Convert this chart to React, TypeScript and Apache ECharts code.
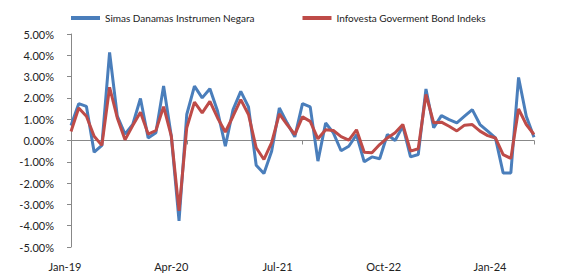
import React, { useEffect, useRef } from "react";
import * as echarts from "echarts";

const MONTHS = ["Jan", "Feb", "Mar", "Apr", "May", "Jun", "Jul", "Aug", "Sep", "Oct", "Nov", "Dec"];
const YEARS = [19, 20, 21, 22, 23, 24];
const categories: string[] = [];
YEARS.forEach((y) => MONTHS.forEach((m) => categories.push(`${m}-${y}`)));
categories.length = 61; // Jan-19 .. Jan-24

const seriesNames = ["Simas Danamas Instrumen Negara", "Infovesta Goverment Bond Indeks"];

const simas = [
  0.7, 1.73, 1.6, -0.55, -0.23, 4.14, 1.14, 0.3, 0.75, 1.97, 0.12,
  0.36, 2.56, 0.2, -3.77, 1.22, 2.55, 2.0, 2.43, 1.37, -0.27,
  1.45, 2.31, 1.58, -1.16, -1.55, -0.5, 1.53, 0.83, 0.17, 1.73,
  1.58, -0.97, 0.82, 0.36, -0.48, -0.27, 0.27, -1.0, -0.77, -0.86,
  0.28, 0.0, 0.67, -0.77, -0.66, 2.42, 0.6, 1.17, 0.98, 0.83,
  1.14, 1.45, 0.75, 0.44, 0.12, -1.52, -1.52, 2.96, 1.14, 0.15,
];

const infovesta = [
  0.42, 1.53, 1.14, 0.2, -0.23, 2.5, 1.06, 0.03, 0.7, 1.33, 0.3,
  0.47, 1.59, 0.2, -3.3, 0.6, 1.8, 1.3, 1.84, 1.06, 0.4,
  1.14, 1.92, 1.22, -0.34, -0.89, -0.1, 1.25, 0.75, 0.28, 1.11,
  0.9, 0.08, 0.5, 0.47, 0.18, 0.02, 0.5, -0.55, -0.58, -0.19,
  0.12, 0.36, 0.75, -0.5, -0.39, 2.16, 0.83, 0.86, 0.67, 0.45,
  0.72, 0.75, 0.44, 0.23, 0.12, -0.66, -0.84, 1.48, 0.75, 0.28,
];

const Y_MIN = -5;
const Y_MAX = 5;
const Y_STEP = 1;
const LABEL_STEP = 15;

const FONT = "Lato, 'Open Sans', sans-serif";

export default function App() {
  const ref = useRef<HTMLDivElement>(null);
  useEffect(() => {
    if (!ref.current) return;
    const chart = echarts.init(ref.current, undefined, { renderer: "svg" });
    chart.setOption({
      animation: false,
      backgroundColor: "#ffffff",
      legend: {
        top: 8,
        left: 66,
        itemGap: 48,
        itemWidth: 29,
        itemHeight: 4,
        icon: "rect",
        textStyle: { fontFamily: FONT, fontSize: 10, color: "#222" },
        data: seriesNames,
      },
      grid: [
        { left: 71, right: 35, top: 34, bottom: 32 },
        { left: 65, right: 79, top: 34, bottom: 24 },
      ],
      xAxis: [
        {
          type: "category",
          gridIndex: 0,
          data: categories,
          boundaryGap: false,
          axisLine: { onZero: true, lineStyle: { color: "#888888", width: 1 } },
          axisTick: { show: true, interval: LABEL_STEP - 1, length: 4, lineStyle: { color: "#888888" } },
          axisLabel: { show: false },
          splitLine: { show: false },
        },
        {
          type: "category",
          gridIndex: 1,
          data: categories,
          boundaryGap: false,
          axisLine: { show: false },
          axisTick: { show: false },
          axisLabel: {
            interval: LABEL_STEP - 1,
            margin: 6,
            fontFamily: FONT,
            fontSize: 11,
            color: "#222",
          },
          splitLine: { show: false },
        },
      ],
      yAxis: [
        {
          type: "value",
          gridIndex: 0,
          min: Y_MIN,
          max: Y_MAX,
          interval: Y_STEP,
          axisLine: { show: true, lineStyle: { color: "#888888", width: 1 } },
          axisTick: { show: true, length: 4, lineStyle: { color: "#888888" } },
          axisLabel: {
            margin: 17,
            fontFamily: FONT,
            fontSize: 11,
            color: "#222",
            formatter: (v: number) => v.toFixed(2) + "%",
          },
          splitLine: { show: false },
        },
        {
          type: "value",
          gridIndex: 1,
          show: false,
          min: 0,
          max: 1,
        },
      ],
      series: [
        {
          name: seriesNames[0],
          type: "line",
          xAxisIndex: 0,
          yAxisIndex: 0,
          data: simas,
          showSymbol: false,
          symbol: "none",
          color: "#4A7EBB",
          lineStyle: { width: 3, color: "#4A7EBB" },
        },
        {
          name: seriesNames[1],
          type: "line",
          xAxisIndex: 0,
          yAxisIndex: 0,
          data: infovesta,
          showSymbol: false,
          symbol: "none",
          color: "#BE4B48",
          lineStyle: { width: 3, color: "#BE4B48" },
        },
      ],
    });
    return () => chart.dispose();
  }, []);
  return (
    <div
      ref={ref}
      style={{ position: "absolute", left: 0, top: 0, width: 569, height: 279 }}
    />
  );
}
